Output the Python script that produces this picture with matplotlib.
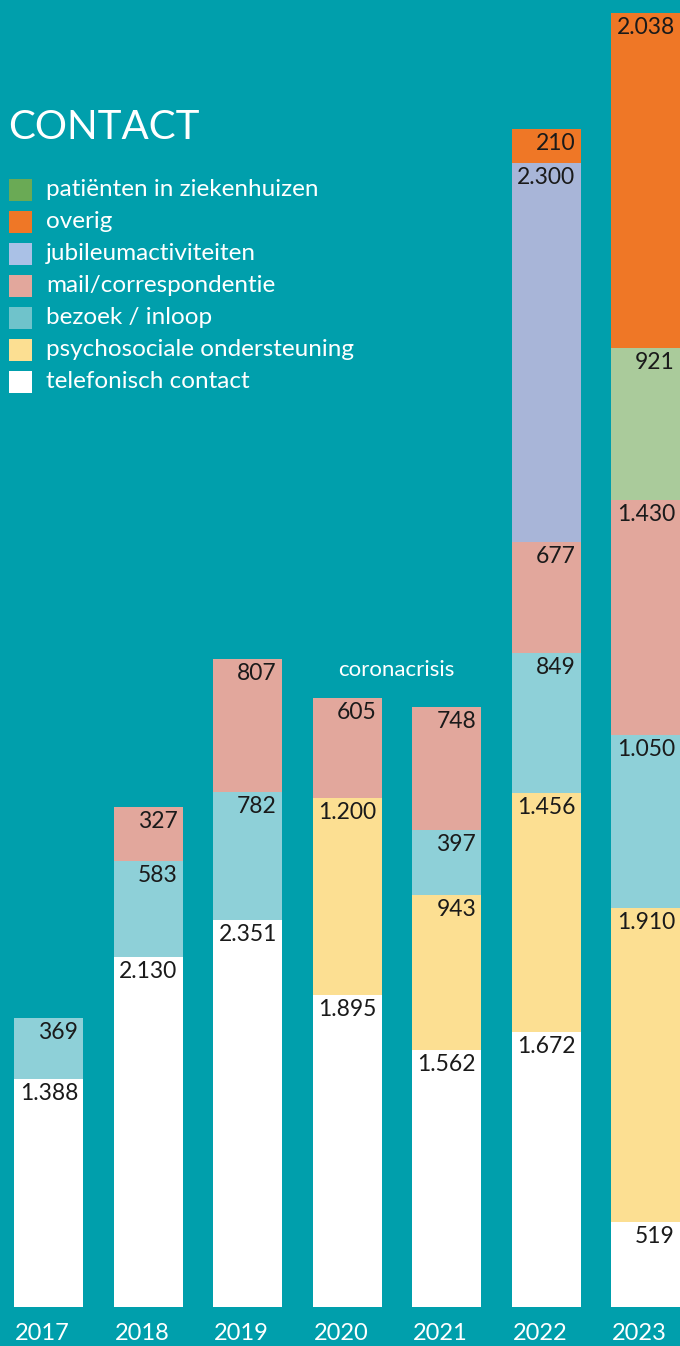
import matplotlib
matplotlib.use("Agg")
import matplotlib.pyplot as plt
from matplotlib.patches import Rectangle

plt.rcParams["font.family"] = ["Lato", "DejaVu Sans"]

BG = "#009fac"

jaren = ["2017", "2018", "2019", "2020", "2021", "2022", "2023"]

# stapelvolgorde van onder naar boven
telefonisch = [1388, 2130, 2351, 1895, 1562, 1672, 519]
psychosociaal = [0, 0, 0, 1200, 943, 1456, 1910]
bezoek = [369, 583, 782, 0, 397, 849, 1050]
mail = [0, 327, 807, 605, 748, 677, 1430]
jubileum = [0, 0, 0, 0, 0, 2300, 0]
patienten = [0, 0, 0, 0, 0, 0, 921]
overig = [0, 0, 0, 0, 0, 210, 2038]

series = [telefonisch, psychosociaal, bezoek, mail, jubileum, patienten, overig]
bar_colors = ["#ffffff", "#fcdf92", "#8ed0d8", "#e2a79c", "#a8b5d8", "#aacb9b", "#ef7726"]

legend_labels = ["patiënten in ziekenhuizen", "overig", "jubileumactiviteiten",
                 "mail/correspondentie", "bezoek / inloop",
                 "psychosociale ondersteuning", "telefonisch contact"]
legend_colors = ["#6aaa55", "#ef7726", "#aac1e6", "#e2a79c", "#6fc3cb", "#fcdf92", "#ffffff"]

W, H = 680, 1346
fig = plt.figure(figsize=(W / 100, H / 100), dpi=100, facecolor=BG)
ax = fig.add_axes([0, 39 / H, 1, 1 - 39 / H])
ax.set_facecolor(BG)
for s in ax.spines.values():
    s.set_visible(False)

step = 99.5  # pixels tussen de staven
width = 69 / step
x = list(range(len(jaren)))
bottom = [0] * len(jaren)
for vals, col in zip(series, bar_colors):
    ax.bar(x, vals, width=width, bottom=bottom, color=col, linewidth=0)
    for i, v in enumerate(vals):
        if v == 0:
            continue
        top = bottom[i] + v
        ax.annotate(f"{v:,}".replace(",", "."), xy=(i + width / 2, top),
                    xytext=(-5, -4), textcoords="offset pixels",
                    ha="right", va="top", fontsize=16.5, color="#1a1a1a",
                    annotation_clip=False)
    bottom = [b + v for b, v in zip(bottom, vals)]

left = -width / 2 - 14 / step
ax.set_xlim(left, left + W / step)
ax.set_ylim(0, 7947)
ax.set_xticks([])
ax.set_yticks([])

# jaartallen
for i, j in enumerate(jaren):
    ax.annotate(j, xy=(i, 0), xytext=(-6, -26), textcoords="offset pixels",
                ha="center", va="center", fontsize=17, color="white",
                annotation_clip=False)

ax.annotate("coronacrisis", xy=(3.5, bottom[3]), xytext=(0, 28),
            textcoords="offset pixels", ha="center", va="center",
            fontsize=16, color="white")

# titel en legenda
fig.text(8 / W, 1 - 139 / H, "CONTACT", ha="left", va="baseline",
         fontsize=29, color="white")
for k, (lab, col) in enumerate(zip(legend_labels, legend_colors)):
    yc = 190 + 32 * k
    fig.add_artist(Rectangle((9 / W, 1 - (yc + 11) / H), 23 / W, 22 / H,
                             transform=fig.transFigure, color=col, linewidth=0))
    fig.text(46 / W, 1 - yc / H, lab, ha="left", va="center",
             fontsize=17.5, color="white")

fig.savefig("out.png", dpi=100, facecolor=BG)
